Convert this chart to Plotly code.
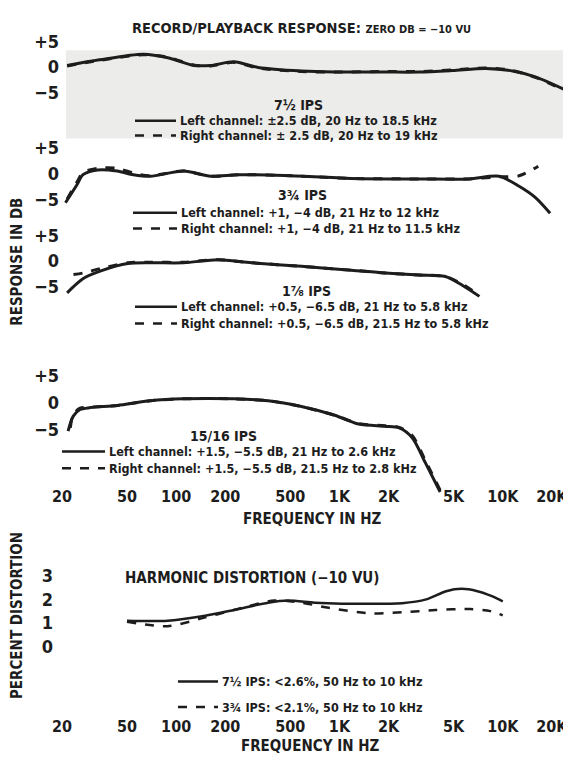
import plotly.graph_objects as go

# ---------------- data ----------------
freq_ticks = [20, 50, 100, 200, 500, 1000, 2000, 5000, 10000, 20000]
freq_tick_text = ["20", "50", "100", "200", "500", "1K", "2K", "5K", "10K", "20K"]

# 7 1/2 IPS
f_75_left = [21.5, 34, 63, 89, 128, 163, 226, 318, 585, 935, 1900, 3080, 4920, 7850, 11500, 16000, 26000]
db_75_left = [0.3, 1.4, 2.5, 1.8, 0.3, 0.3, 1.0, -0.1, -0.8, -1.0, -1.0, -1.0, -0.7, -0.3, -0.8, -2.0, -5.0]
f_75_right = [21.5, 34, 63, 89, 128, 163, 226, 318, 585, 935, 1900, 3080, 4920, 7850, 11500, 16000, 26000]
db_75_right = [0.2, 1.3, 2.4, 1.9, 0.4, 0.2, 0.9, -0.2, -0.9, -1.0, -0.9, -0.9, -0.6, -0.2, -0.7, -2.1, -5.2]

# 3 3/4 IPS
f_375_left = [21, 24.7, 26.9, 33, 43.5, 54.7, 69.4, 111, 163, 240, 460, 1180, 3070, 6220, 9500, 12600, 15800, 19500]
db_375_left = [-5.5, -2.1, -0.2, 0.7, 0.5, -0.2, -0.5, 0.5, -0.5, -0.2, -0.35, -0.9, -1.0, -1.0, -0.5, -2.4, -4.5, -7.5]
f_375_right = [21.5, 24.7, 26.9, 33, 43.5, 54.7, 69.4, 111, 163, 240, 460, 1180, 3070, 6220, 9500, 12600, 16500]
db_375_right = [-4.8, -1.6, 0.2, 1.0, 1.0, 0.1, -0.4, 0.5, -0.5, -0.2, -0.35, -0.9, -1.0, -1.0, -0.6, -0.4, 1.4]

# 1 7/8 IPS
f_178_left = [21.5, 27, 34.6, 50.6, 69.4, 111, 180, 290, 585, 1180, 1900, 3070, 4450, 5650, 7200]
db_178_left = [-6.3, -3.5, -2.0, -0.55, -0.4, -0.4, 0.2, -0.4, -1.1, -1.85, -2.4, -2.8, -3.1, -4.8, -7.0]
f_178_right = [23.5, 27, 34.6, 50.6, 69.4, 111, 180, 290, 585, 1180, 1900, 3070, 4450, 5650, 7200]
db_178_right = [-2.7, -2.4, -1.5, -0.4, -0.3, -0.3, 0.2, -0.4, -1.1, -1.85, -2.4, -2.8, -3.1, -4.6, -6.8]

# 15/16 IPS
f_1516_left = [21.8, 23.4, 25.8, 29.9, 43.7, 69.4, 111, 227, 366, 585, 935, 1310, 1900, 2320, 2790, 3350, 4140]
db_1516_left = [-5.2, -2.5, -1.25, -0.9, -0.5, 0.35, 0.7, 0.7, 0.35, -0.7, -2.3, -3.9, -4.3, -4.6, -6.4, -10.9, -16.3]
f_1516_right = [22.5, 23.4, 25.8, 29.9, 43.7, 69.4, 111, 227, 366, 585, 935, 1310, 1900, 2320, 2790, 3350, 4140]
db_1516_right = [-4.6, -2.2, -1.0, -0.8, -0.5, 0.35, 0.7, 0.7, 0.35, -0.7, -2.3, -3.8, -4.2, -4.5, -6.0, -10.5, -16.0]

# harmonic distortion (percent)
f_hd_75 = [50, 88.6, 141, 226, 366, 485, 705, 1030, 2420, 3400, 4500, 5600, 7000, 8500, 10000]
hd_75 = [1.09, 1.09, 1.27, 1.55, 1.86, 1.95, 1.86, 1.82, 1.84, 2.0, 2.35, 2.45, 2.35, 2.15, 1.92]
f_hd_375 = [50, 88.6, 141, 226, 400, 585, 860, 1520, 2420, 3870, 6320, 8400, 10000]
hd_375 = [1.05, 0.86, 1.18, 1.55, 1.95, 1.86, 1.64, 1.41, 1.45, 1.55, 1.59, 1.5, 1.32]

# texts
speed_labels = ["7\u00bd IPS", "3\u00be IPS", "1\u215e IPS", "15/16 IPS"]
left_names = ["Left channel: \u00b12.5 dB, 20 Hz to 18.5 kHz",
              "Left channel: +1, \u22124 dB, 21 Hz to 12 kHz",
              "Left channel: +0.5, \u22126.5 dB, 21 Hz to 5.8 kHz",
              "Left channel: +1.5, \u22125.5 dB, 21 Hz to 2.6 kHz"]
right_names = ["Right channel: \u00b1 2.5 dB, 20 Hz to 19 kHz",
               "Right channel: +1, \u22124 dB, 21 Hz to 11.5 kHz",
               "Right channel: +0.5, \u22126.5 dB, 21.5 Hz to 5.8 kHz",
               "Right channel: +1.5, \u22125.5 dB, 21.5 Hz to 2.8 kHz"]
hd_names = ["7\u00bd IPS: &lt;2.6%, 50 Hz to 10 kHz", "3\u00be IPS: &lt;2.1%, 50 Hz to 10 kHz"]

# ---------------- layout helpers (page pixel space) ----------------
PAGE_W, PAGE_H = 571, 761
OFF = 8                       # default body margin of the html page
W, H = PAGE_W - OFF, PAGE_H - OFF
ML = 60 - OFF                 # plot area starts at page x = 60
PW = W - ML
PPD = 163.3                   # pixels per decade
XLO = 1.30103 - 2 / PPD       # 20 Hz sits at page x = 62
XHI = XLO + PW / PPD
FONT = "DejaVu Sans Condensed, Liberation Sans Narrow, sans-serif"
INK = "#1d1d1d"


def px_x(px):
    return (px - OFF - ML) / PW


def px_y(py):
    return 1 - (py - OFF) / H


def dom(zero_px, ppu, lo, hi):
    return [px_y(zero_px - lo * ppu), px_y(zero_px - hi * ppu)]


fig = go.Figure()

series = [
    (f_75_left, db_75_left, f_75_right, db_75_right),
    (f_375_left, db_375_left, f_375_right, db_375_right),
    (f_178_left, db_178_left, f_178_right, db_178_right),
    (f_1516_left, db_1516_left, f_1516_right, db_1516_right),
]

for i, (fl, dl, fr, dr) in enumerate(series, start=1):
    xa = "x" if i == 1 else f"x{i}"
    ya = "y" if i == 1 else f"y{i}"
    fig.add_trace(go.Scatter(x=fl, y=dl, mode="lines", name=left_names[i - 1], showlegend=False,
                             line=dict(color=INK, width=3, shape="spline", smoothing=0.8),
                             xaxis=xa, yaxis=ya))
    fig.add_trace(go.Scatter(x=fr, y=dr, mode="lines", name=right_names[i - 1], showlegend=False,
                             line=dict(color=INK, width=3, dash="dash", shape="spline", smoothing=0.8),
                             xaxis=xa, yaxis=ya))

fig.add_trace(go.Scatter(x=f_hd_75, y=hd_75, mode="lines", name=hd_names[0], showlegend=False,
                         line=dict(color=INK, width=2.5, shape="spline", smoothing=0.8),
                         xaxis="x5", yaxis="y5"))
fig.add_trace(go.Scatter(x=f_hd_375, y=hd_375, mode="lines", name=hd_names[1], showlegend=False,
                         line=dict(color=INK, width=2.5, dash="dash", shape="spline", smoothing=0.8),
                         xaxis="x5", yaxis="y5"))

# ---------------- axes ----------------
panel_geom = [
    # zero px (page), px per unit, range
    (57, 5.2, [-6, 5.5]),
    (166, 5.4, [-8, 5.0]),
    (255, 5.2, [-7.5, 5.0]),
    (400, 5.6, [-16.5, 5.5]),
    (649, 24, [-0.3, 3.3]),
]

common_x = dict(type="log", range=[XLO, XHI], showgrid=False, zeroline=False,
                showline=False, ticks="", domain=[0, 1])
common_y = dict(showgrid=False, zeroline=False, showline=False, ticks="",
                tickfont=dict(family=FONT, size=18, color=INK, weight="bold"))

layout_axes = {}
for i, (z, ppu, rng) in enumerate(panel_geom, start=1):
    xk = "xaxis" if i == 1 else f"xaxis{i}"
    yk = "yaxis" if i == 1 else f"yaxis{i}"
    ya = "y" if i == 1 else f"y{i}"
    xa = "x" if i == 1 else f"x{i}"
    xa_cfg = dict(common_x, anchor=ya)
    if i in (4, 5):
        xa_cfg.update(showticklabels=True, tickvals=freq_ticks, ticktext=freq_tick_text,
                      tickfont=dict(family=FONT, size=16, color=INK, weight="bold"),
                      anchor="free", position=px_y(484 if i == 4 else 719))
    else:
        xa_cfg.update(showticklabels=False)
    layout_axes[xk] = xa_cfg
    ya_cfg = dict(common_y, anchor=xa, domain=dom(z, ppu, rng[0], rng[1]), range=rng)
    if i < 5:
        ya_cfg.update(tickvals=[5, 0, -5], ticktext=["+5", "0", "\u22125"])
    else:
        ya_cfg.update(tickvals=[0, 1, 2, 3], ticktext=["0", "1", "2", "3"], ticklabelstandoff=6)
    layout_axes[yk] = ya_cfg

fig.update_layout(**layout_axes)


# ---------------- text ----------------
def ann(text, px, py, size=14, xanchor="center", angle=0):
    return dict(text=text, x=px_x(px), y=px_y(py), xref="paper", yref="paper",
                xanchor=xanchor, yanchor="middle", showarrow=False, textangle=angle,
                font=dict(family=FONT, size=size, color=INK, weight="bold"))


def key_line(x0, x1, py, dash):
    return dict(type="line", xref="paper", yref="paper",
                x0=px_x(x0), x1=px_x(x1), y0=px_y(py), y1=px_y(py),
                line=dict(color=INK, width=2.5, dash=dash))


annotations = [
    ann("RECORD/PLAYBACK RESPONSE: <span style='font-size:11px'>ZERO DB = \u221210 VU</span>",
        130, 17, size=14.5, xanchor="left"),
    ann("FREQUENCY IN HZ", 312, 519, size=15),
    ann("HARMONIC DISTORTION (\u221210 VU)", 123, 579, size=15, xanchor="left"),
    ann("FREQUENCY IN HZ", 310, 751, size=15),
    ann("RESPONSE IN DB", 17, 256, size=15, angle=-90),
    ann("PERCENT DISTORTION", 17, 618, size=15, angle=-90),
]
shapes = [dict(type="rect", xref="paper", yref="paper",
               x0=px_x(66), x1=px_x(572), y0=px_y(130), y1=px_y(40),
               fillcolor="#ececea", line=dict(width=0), layer="below")]

# key blocks: heading (x, y), left row y, right row y, line x0, x1
key_geom = [
    ((298, 96), 112, 127, 135, 176),
    ((302, 188), 206, 222, 133, 177),
    ((306, 286), 302, 319, 135, 177),
    ((223, 434), 450, 467, 62, 105),
]
for k, ((hx, hy), yl, yr, x0, x1) in enumerate(key_geom):
    annotations.append(ann(speed_labels[k], hx, hy, size=14))
    annotations.append(ann(left_names[k], x1 + 2, yl, size=12.5, xanchor="left"))
    annotations.append(ann(right_names[k], x1 + 2, yr, size=12.5, xanchor="left"))
    shapes.append(key_line(x0, x1, yl, "solid"))
    shapes.append(key_line(x0, x1, yr, "dash"))

for name, py, dash in [(hd_names[0], 685, "solid"), (hd_names[1], 711, "dash")]:
    annotations.append(ann(name, 220, py, size=12.5, xanchor="left"))
    shapes.append(key_line(178, 218, py, dash))

fig.update_layout(
    annotations=annotations,
    shapes=shapes,
    width=W, height=H,
    margin=dict(l=ML, r=0, t=0, b=0),
    paper_bgcolor="white", plot_bgcolor="rgba(0,0,0,0)",
    showlegend=False,
)

fig.write_html("out.html")
